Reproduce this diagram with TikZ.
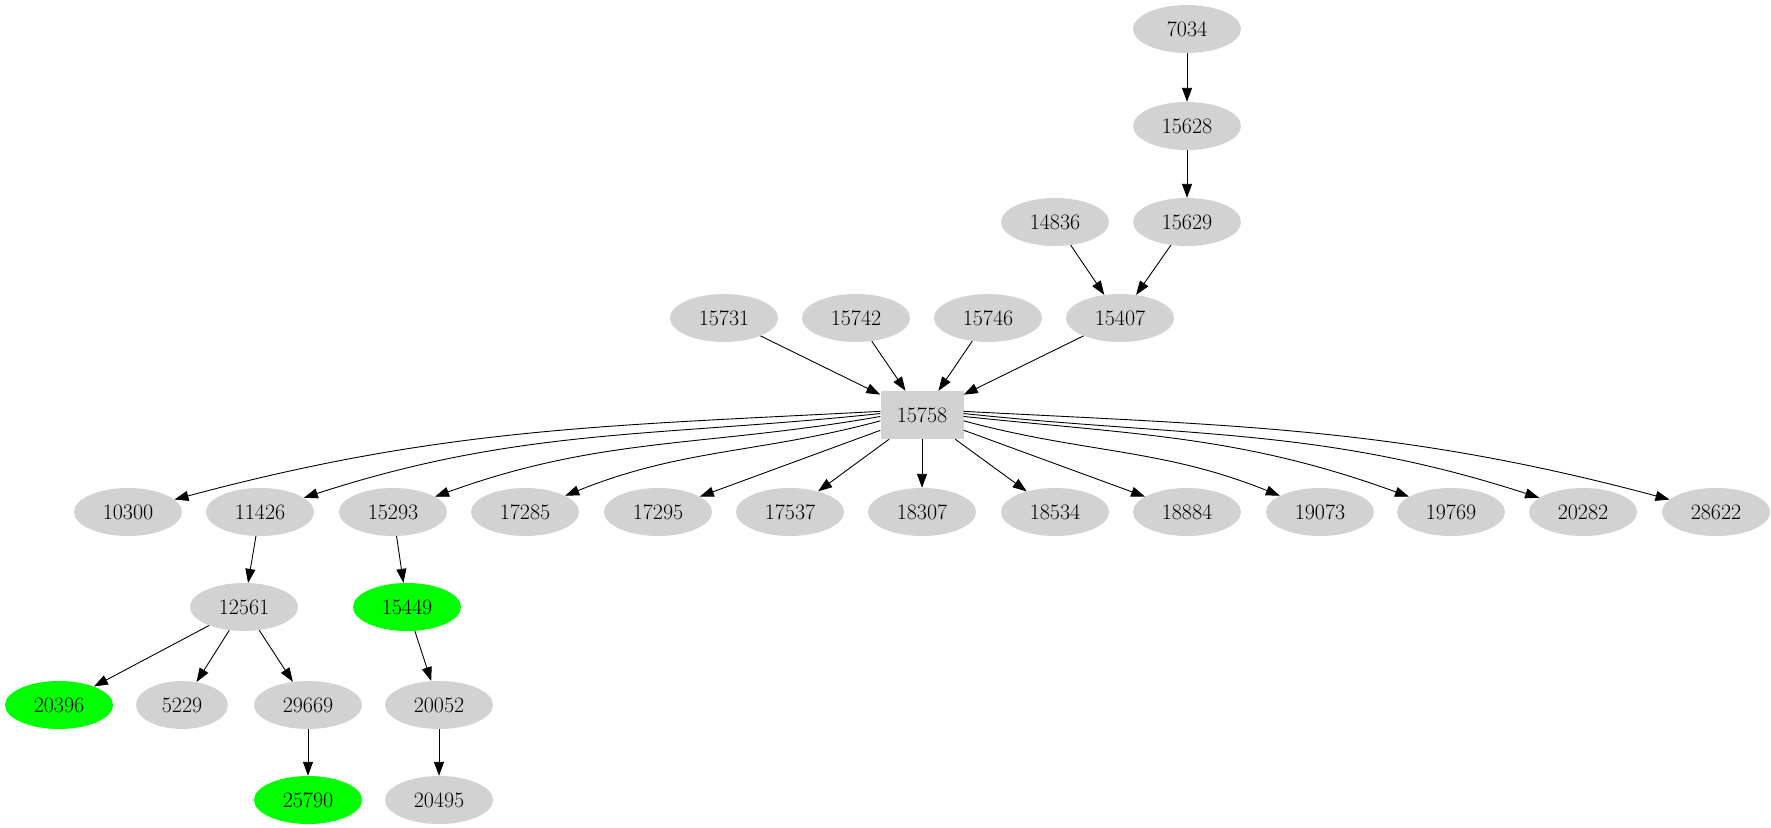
\documentclass[tikz,border=0pt]{standalone}
\usetikzlibrary{arrows.meta,shapes.geometric}
\begin{document}
\begin{tikzpicture}[x=1pt,y=-1pt,
  nd/.style={ellipse,fill=gray!35,minimum width=108pt,minimum height=48pt,inner sep=0pt,font=\fontsize{22}{24}\selectfont},
  grn/.style={nd,fill=green},
  bx/.style={rectangle,fill=gray!35,minimum width=83pt,minimum height=48pt,inner sep=0pt,font=\fontsize{22}{24}\selectfont},
  ar/.style={-{Triangle[length=14pt,width=10pt]},line width=0.9pt}]
\useasboundingbox (0,0) rectangle (1771,827);
\node[nd] (a7034) at (1187,29) {7034};
\node[nd] (a15628) at (1187,126) {15628};
\node[nd] (a14836) at (1055,222) {14836};
\node[nd] (a15629) at (1187,222) {15629};
\node[nd] (a15731) at (724,318) {15731};
\node[nd] (a15742) at (856,318) {15742};
\node[nd] (a15746) at (988,318) {15746};
\node[nd] (a15407) at (1120,318) {15407};
\node[bx] (c) at (922,415) {15758};
\foreach \n/\x in {10300/128,11426/260,15293/393,17285/525,17295/658,17537/790,18307/922,18534/1055,18884/1187,19073/1320,19769/1451,20282/1583,28622/1716}
  \node[nd] (a\n) at (\x,512) {\n};
\node[nd] (a12561) at (244,607) {12561};
\node[grn] (a15449) at (407,607) {15449};
\node[grn] (a20396) at (59,705) {20396};
\node[nd,minimum width=92pt] (a5229) at (182,705) {5229};
\node[nd] (a29669) at (308,705) {29669};
\node[nd] (a20052) at (439,705) {20052};
\node[grn] (a25790) at (308,800) {25790};
\node[nd] (a20495) at (439,800) {20495};
\draw[ar] (a7034) -- (a15628);
\draw[ar] (a15628) -- (a15629);
\draw[ar] (a14836) -- (a15407);
\draw[ar] (a15629) -- (a15407);
\foreach \n in {15731,15742,15746,15407} \draw[ar] (a\n) -- (c);
\draw[ar] (c.175) to[out=183,in=15] (a10300);
\draw[ar] (c.178) to[out=186,in=18] (a11426);
\draw[ar] (c.182) to[out=190,in=20] (a15293);
\draw[ar] (c.188) to[out=195,in=22] (a17285);
\draw[ar] (c) -- (a17295);
\draw[ar] (c) -- (a17537);
\draw[ar] (c) -- (a18307);
\draw[ar] (c) -- (a18534);
\draw[ar] (c) -- (a18884);
\draw[ar] (c.352) to[out=-15,in=158] (a19073);
\draw[ar] (c.358) to[out=-6,in=160] (a19769);
\draw[ar] (c.2) to[out=-6,in=162] (a20282);
\draw[ar] (c.5) to[out=-3,in=165] (a28622);
\draw[ar] (a11426) -- (a12561);
\draw[ar] (a15293) -- (a15449);
\foreach \n in {20396,5229,29669} \draw[ar] (a12561) -- (a\n);
\draw[ar] (a29669) -- (a25790);
\draw[ar] (a15449) -- (a20052);
\draw[ar] (a20052) -- (a20495);
\end{tikzpicture}
\end{document}
